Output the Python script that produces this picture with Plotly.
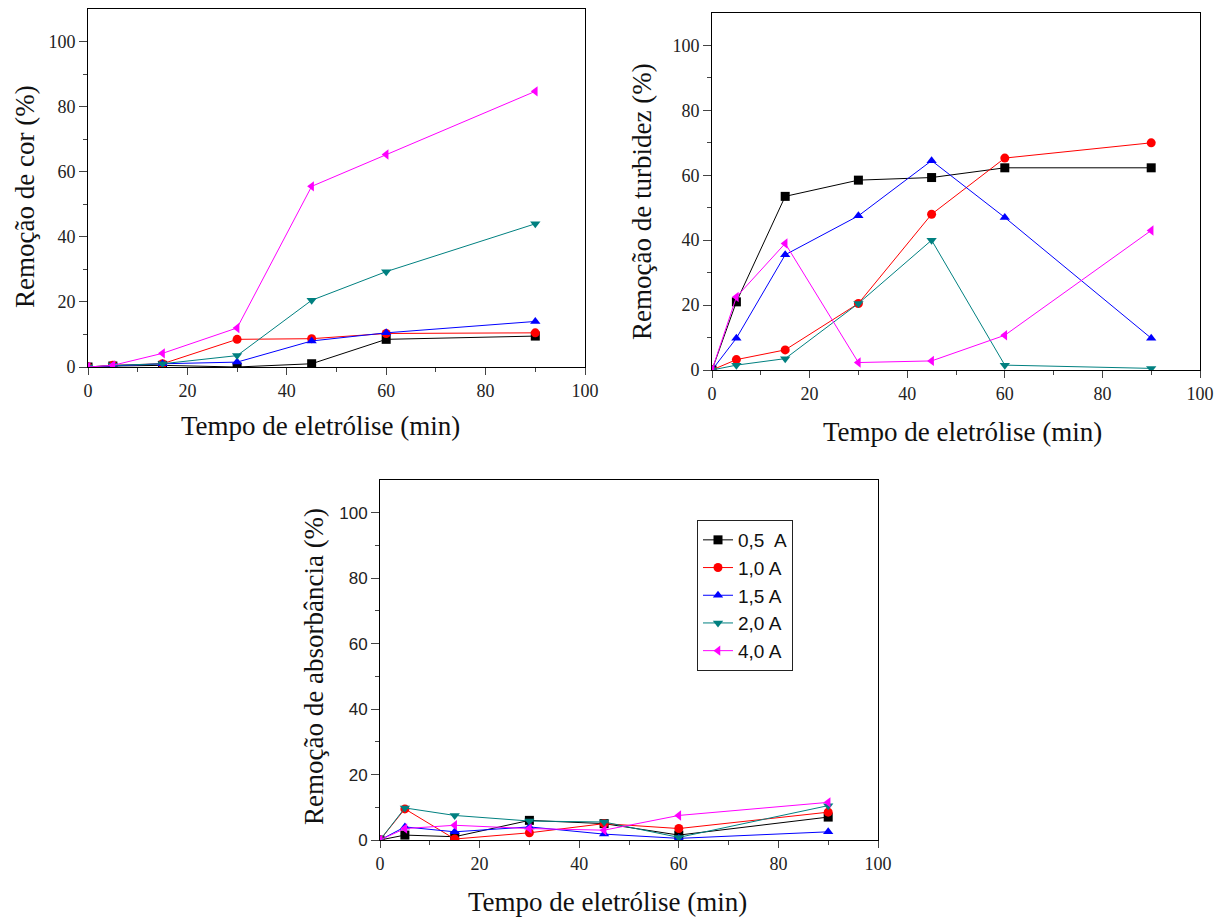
import plotly.graph_objects as go

tempo = [0, 5, 15, 30, 45, 60, 90]
series_names = ["0,5  A", "1,0 A", "1,5 A", "2,0 A", "4,0 A"]
colors = ["#000000", "#FF0000", "#0000FF", "#008080", "#FF00FF"]
symbols = ["square", "circle", "triangle-up", "triangle-down", "triangle-left"]

cor_05 = [0, 0.3, 0.5, 0.0, 1.0, 8.5, 9.5]
cor_10 = [0, 0.5, 1.0, 8.5, 8.7, 10.3, 10.5]
cor_15 = [0, 0.3, 1.0, 1.5, 8.0, 10.5, 14.0]
cor_20 = [0, 0.5, 1.0, 3.5, 20.5, 29.3, 44.0]
cor_40 = [0, 0.5, 4.2, 12.0, 55.5, 65.3, 84.7]

turb_05 = [0, 21.0, 53.5, 58.5, 59.3, 62.3, 62.3]
turb_10 = [0, 3.2, 6.2, 20.5, 48.0, 65.3, 70.0]
turb_15 = [0, 9.8, 35.5, 47.5, 64.5, 47.0, 9.8]
turb_20 = [0, 1.5, 3.5, 20.5, 40.0, 1.5, 0.5]
turb_40 = [0, 22.5, 39.0, 2.3, 2.8, 10.7, 43.0]

abs_05 = [0, 1.5, 1.0, 6.0, 5.0, 1.5, 7.0]
abs_10 = [0, 9.5, 0.3, 2.2, 5.0, 3.5, 8.5]
abs_15 = [0, 4.0, 2.5, 4.0, 1.8, 0.5, 2.5]
abs_20 = [0, 9.8, 7.5, 5.8, 5.5, 0.8, 10.5]
abs_40 = [0, 3.5, 4.5, 3.5, 3.0, 7.5, 11.5]

x_ticks = [0, 20, 40, 60, 80, 100]
y_ticks = [0, 20, 40, 60, 80, 100]
x_title = "Tempo de eletrólise (min)"
y_titles = ["Remoção de cor (%)", "Remoção de turbidez (%)", "Remoção de absorbância (%)"]

panels = [
    ("x", "y", [cor_05, cor_10, cor_15, cor_20, cor_40], False),
    ("x2", "y2", [turb_05, turb_10, turb_15, turb_20, turb_40], False),
    ("x3", "y3", [abs_05, abs_10, abs_15, abs_20, abs_40], True),
]

fig = go.Figure()
for xa, ya, data, show in panels:
    for name, vals, c, s in zip(series_names, data, colors, symbols):
        fig.add_trace(go.Scatter(
            x=tempo, y=vals, mode="lines+markers", name=name,
            xaxis=xa, yaxis=ya, showlegend=show,
            line=dict(color=c, width=1),
            marker=dict(symbol=s, size=9, color=c),
        ))

serif = "Liberation Serif, serif"
sans = "Liberation Sans, Arial, sans-serif"

def xaxis(domain, anchor):
    return dict(
        domain=domain, anchor=anchor, range=[0, 100], automargin=False,
        tickvals=x_ticks, ticks="outside", ticklen=7, tickwidth=1,
        minor=dict(tickvals=[10, 30, 50, 70, 90], ticks="outside", ticklen=4, tickwidth=1),
        showline=True, linecolor="black", linewidth=1, mirror=True,
        showgrid=False, zeroline=False,
        tickfont=dict(family=serif, size=18, color="#222"),
    )

def yaxis(domain, anchor, tickfam, tsize):
    return dict(
        domain=domain, anchor=anchor, range=[0, 110], automargin=False,
        tickvals=y_ticks, ticks="outside", ticklen=8, tickwidth=1,
        minor=dict(tickvals=[10, 30, 50, 70, 90], ticks="outside", ticklen=4, tickwidth=1),
        showline=True, linecolor="black", linewidth=1, mirror=True,
        showgrid=False, zeroline=False,
        tickfont=dict(family=tickfam, size=tsize, color="#222"),
    )

W, H = 1229, 918

def px(X):
    return X / W

def py(Y):
    return 1 - Y / H

title_font = dict(family=serif, size=27, color="#111")
annotations = []
for cx, cy in [(320, 426), (962, 432), (607, 902)]:
    annotations.append(dict(text=x_title, xref="paper", yref="paper",
                            x=px(cx), y=py(cy), xanchor="center", yanchor="middle",
                            showarrow=False, font=title_font))
for t, (cx, cy) in zip(y_titles, [(25, 197), (642, 202), (314, 667)]):
    annotations.append(dict(text=t, xref="paper", yref="paper", textangle=-90,
                            x=px(cx), y=py(cy), xanchor="center", yanchor="middle",
                            showarrow=False, font=title_font))

fig.update_layout(
    width=W, height=H,
    margin=dict(l=0, r=0, t=0, b=0),
    font=dict(family=serif, size=18, color="#222"),
    plot_bgcolor="white", paper_bgcolor="white",
    xaxis=xaxis([px(88), px(585)], "y"),
    yaxis=yaxis([py(367), py(9)], "x", serif, 18),
    xaxis2=xaxis([px(712), px(1200)], "y2"),
    yaxis2=yaxis([py(370), py(13)], "x2", serif, 18),
    xaxis3=xaxis([px(380), px(878)], "y3"),
    yaxis3=yaxis([py(840), py(480)], "x3", sans, 17),
    annotations=annotations,
    legend=dict(
        x=px(697), y=py(520), xanchor="left", yanchor="top",
        bordercolor="#222", borderwidth=1, bgcolor="white",
        font=dict(family=sans, size=19, color="#111"),
        tracegroupgap=0, itemwidth=30,
    ),
)

fig.write_html("out.html", config={"displayModeBar": False},
               post_script="document.body.style.margin='0';")
